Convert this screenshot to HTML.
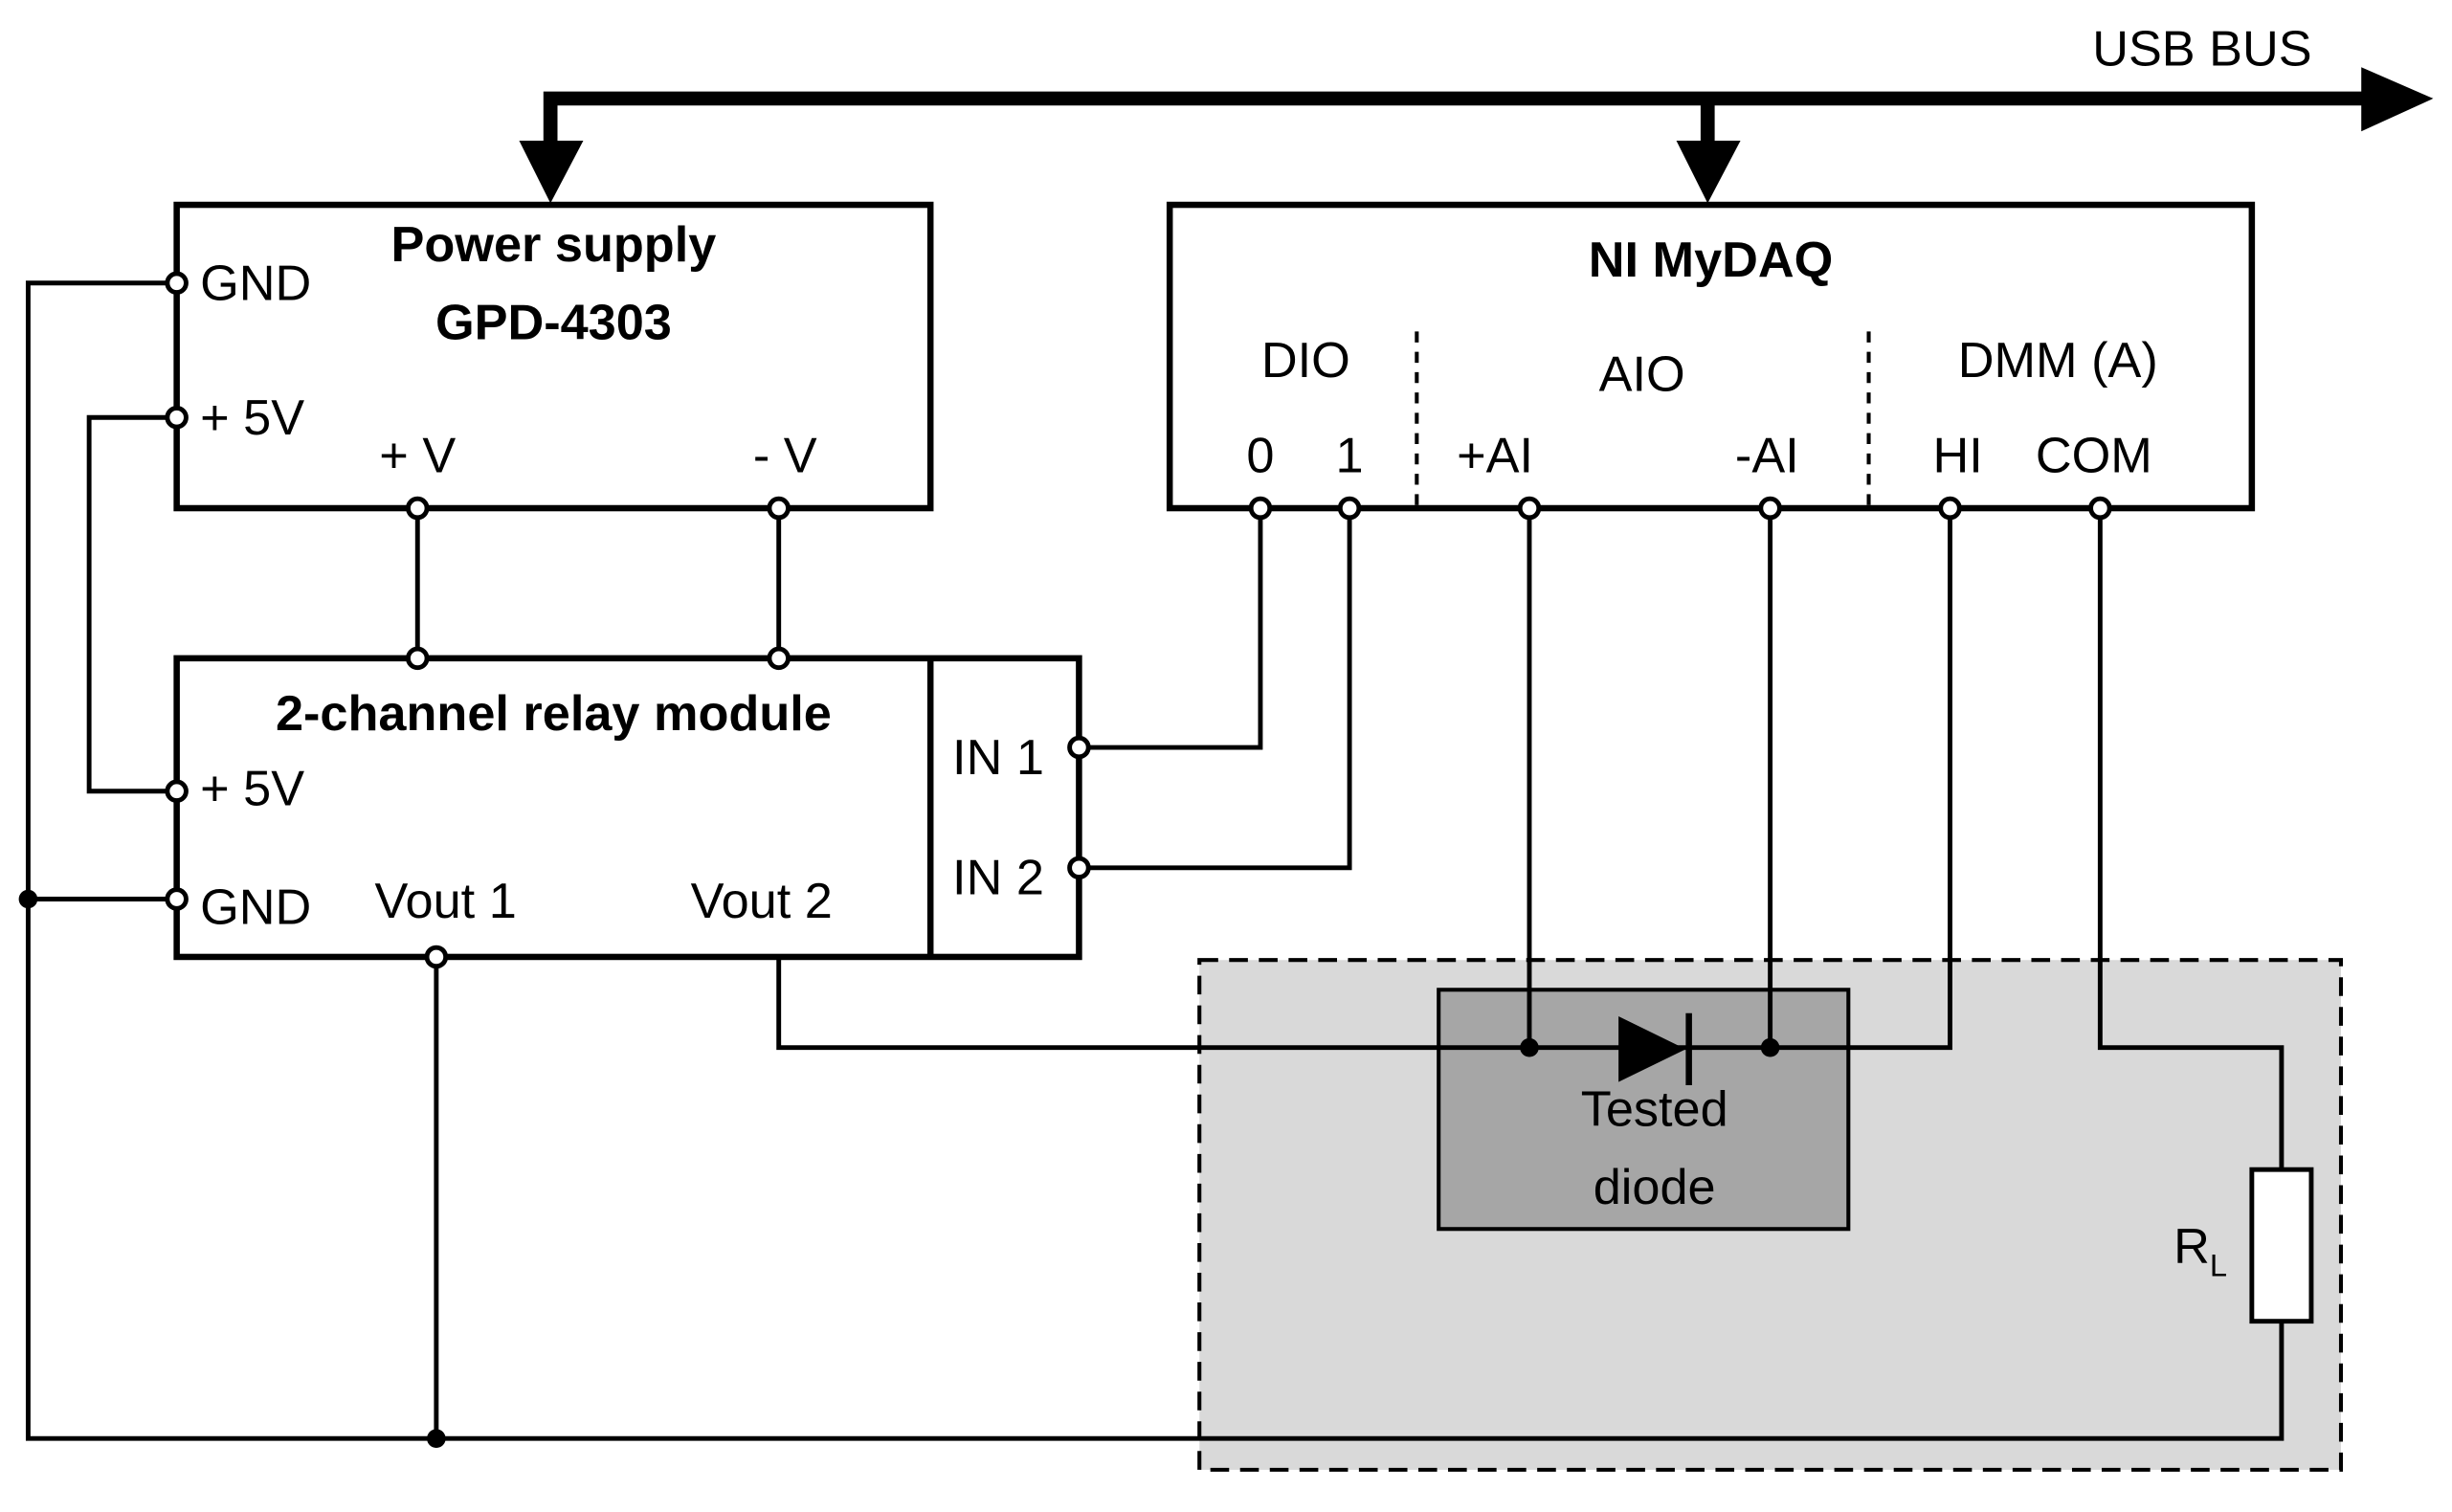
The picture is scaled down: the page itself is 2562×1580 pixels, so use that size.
<!DOCTYPE html>
<html><head><meta charset="utf-8"><style>html,body{margin:0;padding:0;background:#fff}svg{display:block}</style></head>
<body>
<svg width="2562" height="1580" viewBox="0 0 1568 967" preserveAspectRatio="none" xmlns="http://www.w3.org/2000/svg" font-family="Liberation Sans, sans-serif">
<rect width="1568" height="967" fill="#fff"/>
<rect x="767" y="614" width="730" height="326" fill="#d9d9d9" stroke="#000" stroke-width="2.5" stroke-dasharray="12,7"/>
<rect x="920" y="633" width="262" height="153" fill="#a6a6a6" stroke="#000" stroke-width="2.5"/>
<g stroke="#000" stroke-width="9" fill="none">
<polyline points="352,98 352,63 1515,63"/>
<line x1="1092" y1="63" x2="1092" y2="98"/>
</g>
<polygon points="1510,43 1556,63 1510,84" fill="#000"/>
<polygon points="332,90 373,90 352,130" fill="#000"/>
<polygon points="1072,90 1113,90 1092,130" fill="#000"/>
<text x="1338" y="42" font-size="32">USB BUS</text>
<g stroke="#000" stroke-width="4" fill="none">
<rect x="113" y="131" width="482" height="194"/>
<rect x="748" y="131" width="692" height="194"/>
<rect x="113" y="421" width="577" height="191"/>
<line x1="595" y1="421" x2="595" y2="612"/>
</g>
<g stroke="#000" stroke-width="2.5" stroke-dasharray="7,6">
<line x1="906" y1="212" x2="906" y2="325"/>
<line x1="1195" y1="212" x2="1195" y2="325"/>
</g>
<g stroke="#000" stroke-width="3" fill="none">
<polyline points="113,181 18,181 18,920 1459,920 1459,845"/>
<polyline points="1459,748 1459,670 1343,670 1343,325"/>
<polyline points="113,267 57,267 57,506 113,506"/>
<line x1="18" y1="575" x2="113" y2="575"/>
<line x1="267" y1="325" x2="267" y2="421"/>
<line x1="498" y1="325" x2="498" y2="421"/>
<line x1="279" y1="612" x2="279" y2="920"/>
<polyline points="498,612 498,670 1247,670 1247,325"/>
<polyline points="806,325 806,478 690,478"/>
<polyline points="863,325 863,555 690,555"/>
<line x1="978" y1="325" x2="978" y2="670"/>
<line x1="1132" y1="325" x2="1132" y2="670"/>
</g>
<rect x="1440" y="748" width="38" height="97" fill="#fff" stroke="#000" stroke-width="3"/>
<polygon points="1035,650 1035,692 1078,671" fill="#000"/>
<line x1="1080" y1="648" x2="1080" y2="694" stroke="#000" stroke-width="4"/>
<g fill="#000">
<circle cx="18" cy="575" r="6"/><circle cx="279" cy="920" r="6"/>
<circle cx="978" cy="670" r="6"/><circle cx="1132" cy="670" r="6"/>
</g>
<g fill="#fff" stroke="#000" stroke-width="3">
<circle cx="113" cy="181" r="6"/><circle cx="113" cy="267" r="6"/>
<circle cx="113" cy="506" r="6"/><circle cx="113" cy="575" r="6"/>
<circle cx="267" cy="325" r="6"/><circle cx="498" cy="325" r="6"/>
<circle cx="267" cy="421" r="6"/><circle cx="498" cy="421" r="6"/>
<circle cx="279" cy="612" r="6"/>
<circle cx="690" cy="478" r="6"/><circle cx="690" cy="555" r="6"/>
<circle cx="806" cy="325" r="6"/><circle cx="863" cy="325" r="6"/>
<circle cx="978" cy="325" r="6"/><circle cx="1132" cy="325" r="6"/>
<circle cx="1247" cy="325" r="6"/><circle cx="1343" cy="325" r="6"/>
</g>
<g font-size="32" fill="#000">
<text x="354" y="167" font-weight="bold" text-anchor="middle">Power supply</text>
<text x="354" y="217" font-weight="bold" text-anchor="middle">GPD-4303</text>
<text x="128" y="192">GND</text>
<text x="128" y="278">+ 5V</text>
<text x="267" y="302" text-anchor="middle">+ V</text>
<text x="502" y="302" text-anchor="middle">- V</text>
<text x="1094" y="177" font-weight="bold" text-anchor="middle">NI MyDAQ</text>
<text x="835" y="241" text-anchor="middle">DIO</text>
<text x="1050" y="250" text-anchor="middle">AIO</text>
<text x="1316" y="241" text-anchor="middle">DMM (A)</text>
<text x="806" y="302" text-anchor="middle">0</text>
<text x="863" y="302" text-anchor="middle">1</text>
<text x="956" y="302" text-anchor="middle">+AI</text>
<text x="1130" y="302" text-anchor="middle">-AI</text>
<text x="1252" y="302" text-anchor="middle">HI</text>
<text x="1339" y="302" text-anchor="middle">COM</text>
<text x="354" y="467" font-weight="bold" text-anchor="middle">2-channel relay module</text>
<text x="128" y="515">+ 5V</text>
<text x="128" y="591">GND</text>
<text x="285" y="587" text-anchor="middle">Vout 1</text>
<text x="487" y="587" text-anchor="middle">Vout 2</text>
<text x="609" y="495">IN 1</text>
<text x="609" y="572">IN 2</text>
<text x="1058" y="720" text-anchor="middle">Tested</text>
<text x="1058" y="770" text-anchor="middle">diode</text>
<text x="1390" y="808">R<tspan font-size="20" dy="8">L</tspan></text>
</g>
</svg>
</body></html>
